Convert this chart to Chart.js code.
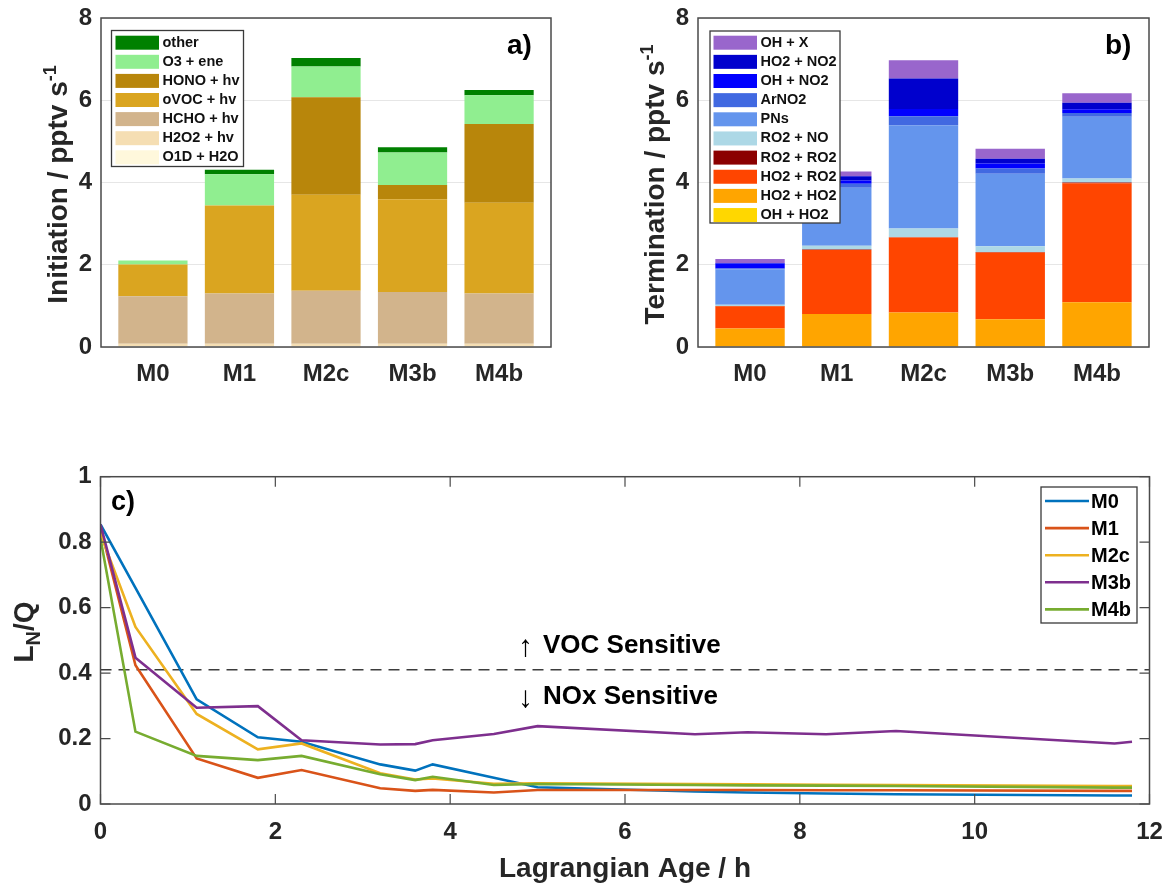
<!DOCTYPE html>
<html><head><meta charset="utf-8">
<script src="https://cdn.jsdelivr.net/npm/chart.js@4.4.1/dist/chart.umd.min.js"></script>
<style>
html,body{margin:0;padding:0;background:#fff;}
#wrap{position:relative;width:1167px;height:884px;overflow:hidden;background:#fff;}
canvas{position:absolute;}
</style></head><body>
<div id="wrap">
<canvas id="ca" width="590" height="400" style="left:0px;top:0px;width:590px;height:400px"></canvas>
<canvas id="cb" width="570" height="400" style="left:597px;top:0px;width:570px;height:400px"></canvas>
<canvas id="cc" width="1167" height="464" style="left:0px;top:420px;width:1167px;height:464px"></canvas>
</div>
<script>
// ---------- categories ----------
const models = ['M0', 'M1', 'M2c', 'M3b', 'M4b'];

// ---------- panel a: initiation (pptv/s), stacked bottom -> top ----------
const initLabels = ['O1D + H2O', 'H2O2 + hv', 'HCHO + hv', 'oVOC + hv', 'HONO + hv', 'O3 + ene', 'other'];
const initColors = ['#FFF8DC', '#F5DEB3', '#D2B48C', '#DAA520', '#B8860B', '#90EE90', '#008000'];
const initO1D  = [0.02, 0.02, 0.02, 0.02, 0.02];
const initH2O2 = [0.06, 0.06, 0.06, 0.06, 0.06];
const initHCHO = [1.155, 1.22, 1.29, 1.26, 1.22];
const initOVOC = [0.77, 2.14, 2.33, 2.25, 2.21];
const initHONO = [0.0, 0.0, 2.37, 0.35, 1.91];
const initO3ene = [0.10, 0.76, 0.75, 0.79, 0.70];
const initOther = [0.0, 0.11, 0.21, 0.13, 0.13];

// ---------- panel b: termination (pptv/s), stacked bottom -> top ----------
const termLabels = ['OH + HO2', 'HO2 + HO2', 'HO2 + RO2', 'RO2 + RO2', 'RO2 + NO', 'PNs', 'ArNO2', 'OH + NO2', 'HO2 + NO2', 'OH + X'];
const termColors = ['#FFD700', '#FFA500', '#FF4500', '#8B0000', '#ADD8E6', '#6495ED', '#4169E1', '#0000FF', '#0000CD', '#9966CC'];
const termOHHO2  = [0.01, 0.01, 0.01, 0.01, 0.01];
const termHO2HO2 = [0.44, 0.79, 0.83, 0.665, 1.08];
const termHO2RO2 = [0.54, 1.56, 1.82, 1.625, 2.89];
const termRO2RO2 = [0.005, 0.01, 0.01, 0.01, 0.02];
const termRO2NO  = [0.03, 0.09, 0.21, 0.14, 0.10];
const termPNs    = [0.865, 1.41, 2.51, 1.76, 1.50];
const termArNO2  = [0.02, 0.10, 0.22, 0.13, 0.09];
const termOHNO2  = [0.12, 0.08, 0.18, 0.12, 0.09];
const termHO2NO2 = [0.01, 0.10, 0.74, 0.12, 0.16];
const termOHX    = [0.10, 0.12, 0.44, 0.24, 0.23];

// ---------- panel c: L_N/Q vs Lagrangian age ----------
const ageHours = [0, 0.4, 1.1, 1.8, 2.3, 3.2, 3.6, 3.8, 4.5, 5.0, 6.8, 7.4, 8.3, 9.1, 11.6, 11.8];
const lnqM0  = [0.854, 0.66, 0.320, 0.204, 0.190, 0.121, 0.102, 0.121, 0.080, 0.051, 0.038, 0.035, 0.032, 0.030, 0.026, 0.026];
const lnqM1  = [0.845, 0.424, 0.139, 0.080, 0.104, 0.048, 0.040, 0.043, 0.035, 0.043, 0.043, 0.043, 0.042, 0.042, 0.040, 0.040];
const lnqM2c = [0.826, 0.541, 0.275, 0.167, 0.185, 0.094, 0.075, 0.078, 0.062, 0.063, 0.061, 0.060, 0.059, 0.058, 0.055, 0.055];
const lnqM3b = [0.854, 0.447, 0.294, 0.299, 0.195, 0.182, 0.183, 0.195, 0.214, 0.238, 0.213, 0.219, 0.213, 0.223, 0.185, 0.190];
const lnqM4b = [0.811, 0.221, 0.147, 0.134, 0.147, 0.091, 0.073, 0.083, 0.058, 0.061, 0.058, 0.057, 0.056, 0.055, 0.050, 0.050];
const lineColors = ['#0072BD', '#D95319', '#EDB120', '#7E2F8E', '#77AC30'];
const thresholdX = [0, 12];
const thresholdY = [0.41, 0.41];

// ---------- common ----------
const FONT = "'Liberation Sans', Arial, Helvetica, sans-serif";
Chart.defaults.font.family = FONT;
Chart.defaults.color = '#262626';
Chart.defaults.animation = false;
const AXC = '#4a4a4a';

function drawRotLabel(ctx, x, cy, parts) {
  ctx.save();
  let total = 0;
  parts.forEach(p => { ctx.font = 'bold ' + p.size + 'px ' + FONT; p.w = ctx.measureText(p.t).width; total += p.w; });
  ctx.translate(x, cy);
  ctx.rotate(-Math.PI / 2);
  ctx.fillStyle = '#262626';
  ctx.textBaseline = 'alphabetic';
  ctx.textAlign = 'left';
  let cx = -total / 2;
  parts.forEach(p => { ctx.font = 'bold ' + p.size + 'px ' + FONT; ctx.fillText(p.t, cx, p.dy || 0); cx += p.w; });
  ctx.restore();
}

function drawBox(ctx, a) {
  ctx.save();
  ctx.strokeStyle = AXC; ctx.lineWidth = 1.5;
  ctx.strokeRect(a.left, a.top, a.right - a.left, a.bottom - a.top);
  ctx.restore();
}

function drawPatchLegend(ctx, chart, box, patch, textX, row0, step, fontSize) {
  const ds = chart.data.datasets.slice().reverse();
  ctx.save();
  ctx.fillStyle = '#fff';
  ctx.fillRect(box.x, box.y, box.w, box.h);
  ctx.strokeStyle = '#3a3a3a'; ctx.lineWidth = 1.3;
  ctx.strokeRect(box.x, box.y, box.w, box.h);
  ctx.font = 'bold ' + fontSize + 'px ' + FONT;
  ctx.textBaseline = 'middle';
  ds.forEach((d, i) => {
    const cy = row0 + i * step;
    ctx.fillStyle = d.backgroundColor;
    ctx.fillRect(patch.x, cy - patch.h / 2, patch.w, patch.h);
    ctx.fillStyle = '#111';
    ctx.fillText(d.label, textX, cy);
  });
  ctx.restore();
}

function barConfig(seriesList, labels, colors, yParts, tag, legendSpec, rightPad) {
  const datasets = seriesList.map((vals, i) => ({
    label: labels[i],
    data: vals.map((v, j) => ({ x: j + 1, y: v })),
    backgroundColor: colors[i],
    borderWidth: 0,
    categoryPercentage: 0.8,
    barPercentage: 1.0
  }));
  return {
    type: 'bar',
    data: { datasets },
    options: {
      responsive: false, devicePixelRatio: 1, animation: false,
      layout: { padding: { top: 18, right: rightPad, bottom: 0, left: 0 } },
      plugins: { legend: { display: false }, tooltip: { enabled: false } },
      scales: {
        x: {
          type: 'linear', min: 0.4, max: 5.6, stacked: true, offset: false,
          grid: { display: false, drawTicks: false },
          border: { display: false },
          afterBuildTicks: s => { s.ticks = models.map((m, i) => ({ value: i + 1 })); },
          ticks: { autoSkip: false, maxRotation: 0, padding: 13, color: '#262626',
                   font: { size: 24, weight: 'bold' },
                   callback: v => models[Math.round(v) - 1] || '' },
          afterFit: s => { s.height = 53; s.paddingLeft = 0; s.paddingRight = 0; }
        },
        y: {
          min: 0, max: 8, stacked: true,
          grid: { color: '#e6e6e6', lineWidth: 1, drawTicks: false },
          border: { display: false },
          ticks: { stepSize: 2, padding: 9, color: '#262626', font: { size: 24, weight: 'bold' } },
          afterFit: s => { s.width = 101; s.paddingTop = 0; s.paddingBottom = 0; }
        }
      }
    },
    plugins: [{
      id: 'decor',
      afterDraw(chart) {
        const ctx = chart.ctx, a = chart.chartArea;
        drawBox(ctx, a);
        legendSpec(ctx, chart);
        ctx.save();
        ctx.fillStyle = '#000';
        ctx.font = 'bold 28px ' + FONT;
        ctx.textBaseline = 'alphabetic';
        ctx.fillText(tag, a.right - 44, 54);
        ctx.restore();
        drawRotLabel(ctx, 67, (a.top + a.bottom) / 2 + 2, yParts);
      }
    }]
  };
}

new Chart(document.getElementById('ca'), barConfig(
  [initO1D, initH2O2, initHCHO, initOVOC, initHONO, initO3ene, initOther],
  initLabels, initColors,
  [{ t: 'Initiation / pptv s', size: 28 }, { t: '-1', size: 18, dy: -11 }],
  'a)',
  (ctx, chart) => drawPatchLegend(ctx, chart, { x: 111.5, y: 30.5, w: 132, h: 136 },
    { x: 115.5, w: 43.5, h: 14 }, 162.5, 42.7, 19.1, 14.5),
  39
));

new Chart(document.getElementById('cb'), barConfig(
  [termOHHO2, termHO2HO2, termHO2RO2, termRO2RO2, termRO2NO, termPNs, termArNO2, termOHNO2, termHO2NO2, termOHX],
  termLabels, termColors,
  [{ t: 'Termination / pptv s', size: 28 }, { t: '-1', size: 18, dy: -11 }],
  'b)',
  (ctx, chart) => drawPatchLegend(ctx, chart, { x: 113, y: 31, w: 130, h: 192 },
    { x: 116.5, w: 43.5, h: 14 }, 163.5, 42.7, 19.15, 14.5),
  18
));

// ---------- panel c ----------
const lineSeries = [lnqM0, lnqM1, lnqM2c, lnqM3b, lnqM4b];
const lineDatasets = lineSeries.map((vals, i) => ({
  label: models[i],
  data: vals.map((v, j) => ({ x: ageHours[j], y: v })),
  borderColor: lineColors[i],
  backgroundColor: lineColors[i],
  borderWidth: 2.6,
  pointRadius: 0,
  tension: 0,
  fill: false,
  order: 5 - i
}));
lineDatasets.push({
  label: 'threshold',
  data: thresholdX.map((x, j) => ({ x: x, y: thresholdY[j] })),
  borderColor: '#3c3c3c',
  borderWidth: 1.6,
  borderDash: [11, 7],
  pointRadius: 0,
  fill: false,
  order: 10
});

new Chart(document.getElementById('cc'), {
  type: 'line',
  data: { datasets: lineDatasets },
  options: {
    responsive: false, devicePixelRatio: 1, animation: false,
    layout: { padding: { top: 56.7, right: 17.5, bottom: 0, left: 0 } },
    plugins: { legend: { display: false }, tooltip: { enabled: false } },
    scales: {
      x: {
        type: 'linear', min: 0, max: 12,
        grid: { display: false, drawTicks: false },
        border: { display: false },
        ticks: { stepSize: 2, padding: 14, maxRotation: 0, color: '#262626', font: { size: 24, weight: 'bold' } },
        afterFit: s => { s.height = 80; s.paddingLeft = 0; s.paddingRight = 0; }
      },
      y: {
        min: 0, max: 1,
        grid: { display: false, drawTicks: false },
        border: { display: false },
        ticks: { stepSize: 0.2, padding: 9, color: '#262626', font: { size: 24, weight: 'bold' },
                 callback: v => String(Math.round(v * 10) / 10) },
        afterFit: s => { s.width = 100.5; s.paddingTop = 0; s.paddingBottom = 0; }
      }
    }
  },
  plugins: [{
    id: 'decorC',
    afterDraw(chart) {
      const ctx = chart.ctx, a = chart.chartArea;
      const xs = chart.scales.x, ys = chart.scales.y;
      drawBox(ctx, a);
      ctx.save();
      ctx.strokeStyle = AXC; ctx.lineWidth = 1.2;
      ctx.beginPath();
      xs.ticks.forEach(t => {
        const px = xs.getPixelForValue(t.value);
        ctx.moveTo(px, a.bottom); ctx.lineTo(px, a.bottom - 10);
        ctx.moveTo(px, a.top); ctx.lineTo(px, a.top + 10);
      });
      ys.ticks.forEach(t => {
        const py = ys.getPixelForValue(t.value);
        ctx.moveTo(a.left, py); ctx.lineTo(a.left + 10, py);
        ctx.moveTo(a.right, py); ctx.lineTo(a.right - 10, py);
      });
      ctx.stroke();
      ctx.restore();

      // legend
      ctx.save();
      const lb = { x: 1041, y: 67, w: 96, h: 136 };
      ctx.fillStyle = '#fff'; ctx.fillRect(lb.x, lb.y, lb.w, lb.h);
      ctx.strokeStyle = '#3a3a3a'; ctx.lineWidth = 1.3; ctx.strokeRect(lb.x, lb.y, lb.w, lb.h);
      ctx.font = 'bold 20px ' + FONT;
      ctx.textBaseline = 'middle';
      chart.data.datasets.slice(0, 5).forEach((d, i) => {
        const cy = 81 + i * 27.1;
        ctx.strokeStyle = d.borderColor; ctx.lineWidth = 2.6;
        ctx.beginPath(); ctx.moveTo(1045, cy); ctx.lineTo(1089, cy); ctx.stroke();
        ctx.fillStyle = '#000';
        ctx.fillText(d.label, 1091, cy + 1);
      });
      ctx.restore();

      // annotations
      ctx.save();
      ctx.fillStyle = '#000';
      ctx.textBaseline = 'alphabetic';
      ctx.font = 'bold 27px ' + FONT;
      ctx.fillText('c)', 111, 90);
      ctx.font = '30px ' + FONT;
      ctx.fillText('\u2191', 518, 236);
      ctx.fillText('\u2193', 518, 287);
      ctx.font = 'bold 26px ' + FONT;
      ctx.fillText('VOC Sensitive', 543, 233);
      ctx.fillText('NOx Sensitive', 543, 284);
      ctx.font = 'bold 28px ' + FONT;
      ctx.fillStyle = '#262626';
      ctx.textAlign = 'center';
      ctx.fillText('Lagrangian Age / h', (a.left + a.right) / 2, 457);
      ctx.restore();

      drawRotLabel(ctx, 33, 212, [{ t: 'L', size: 28 }, { t: 'N', size: 20, dy: 7 }, { t: '/Q', size: 28 }]);
    }
  }]
});
</script>
</body></html>
